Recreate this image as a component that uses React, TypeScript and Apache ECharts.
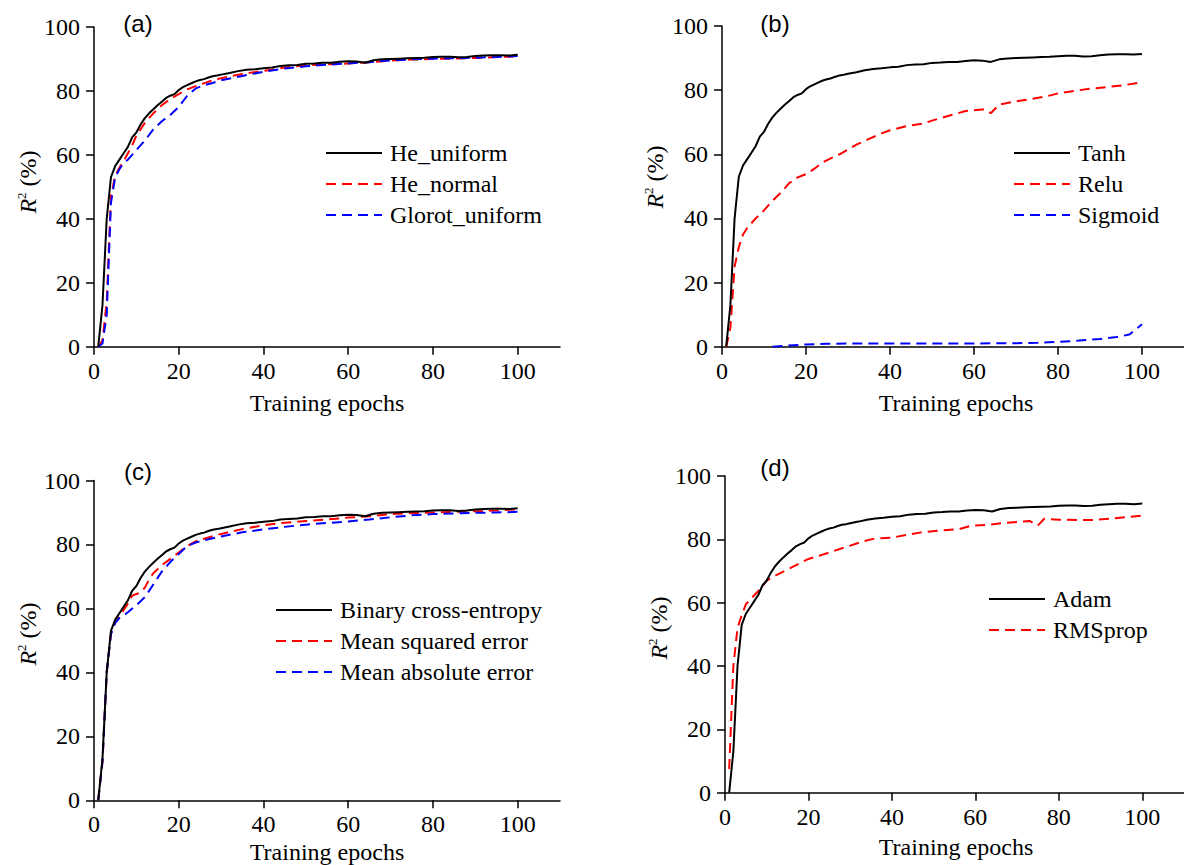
import React, { useEffect, useRef } from "react";
import * as echarts from "echarts";

// ---------- data (epoch, R2 %) ----------
const tickValuesX = [0, 20, 40, 60, 80, 100];

// reference model (He_uniform / Tanh / Binary cross-entropy / Adam)
const baselineR2: [number, number][] = [
  [1, 0], [2, 13], [3, 40], [4, 53], [5, 56.5], [6, 58.5], [7, 60.5], [8, 62.5], [9, 65.5], [10, 67],
  [11, 69.5], [12, 71.5], [13, 73], [14, 74.3], [15, 75.5], [16, 76.6], [17, 77.8], [18, 78.5], [19, 79],
  [20, 80.3], [21, 81.2], [22, 81.8], [23, 82.4], [24, 83], [25, 83.4], [26, 83.7], [27, 84.2], [28, 84.6],
  [29, 84.8], [30, 85.1], [32, 85.6], [34, 86.2], [36, 86.6], [38, 86.8], [40, 87.1], [42, 87.3], [44, 87.8],
  [46, 88], [48, 88.1], [50, 88.5], [52, 88.6], [54, 88.8], [56, 88.8], [58, 89.1], [60, 89.3], [62, 89.2],
  [64, 88.8], [66, 89.6], [68, 89.9], [70, 90], [72, 90.1], [74, 90.2], [76, 90.3], [78, 90.4], [80, 90.6],
  [82, 90.7], [84, 90.7], [86, 90.5], [88, 90.6], [90, 90.9], [92, 91.1], [94, 91.2], [96, 91.2], [98, 91.1],
  [100, 91.3],
];

const heNormal: [number, number][] = [
  [1, 0], [2, 2], [3, 14], [4, 47], [5, 53.5], [6, 56], [7, 58], [8, 60.5], [9, 63], [10, 66], [12, 70],
  [14, 73], [16, 75.5], [18, 77.5], [20, 79], [22, 80.5], [25, 82], [28, 83.3], [30, 84], [35, 85.3],
  [40, 86.3], [45, 87.3], [50, 88], [55, 88.3], [60, 88.6], [65, 89], [70, 89.5], [75, 89.8], [80, 90],
  [85, 90.1], [90, 90.3], [95, 90.6], [100, 90.8],
];

const glorotUniform: [number, number][] = [
  [1, 0], [2, 1], [3, 10], [4, 45], [5, 53], [6, 55.5], [7, 57.5], [8, 58.5], [9, 60], [10, 61.5],
  [12, 64.5], [14, 68], [16, 70.5], [18, 72.5], [20, 75], [22, 78.5], [24, 80.8], [26, 81.8], [28, 82.5],
  [30, 83.3], [35, 84.7], [40, 86], [45, 87], [50, 87.7], [55, 88.2], [60, 88.6], [65, 89], [70, 89.5],
  [75, 89.9], [80, 90.1], [85, 90.2], [90, 90.4], [95, 90.6], [100, 90.9],
];

const relu: [number, number][] = [
  [1, 0], [2, 6], [3, 25], [4, 31], [5, 35], [6, 37], [7, 38.5], [8, 40], [10, 42.5], [12, 45.5],
  [14, 48], [16, 51], [18, 52.8], [20, 53.8], [22, 55.5], [24, 57.5], [26, 58.8], [28, 60], [30, 61.5],
  [32, 63], [35, 64.8], [38, 66.5], [40, 67.5], [44, 68.8], [48, 69.6], [50, 70.5], [54, 72], [58, 73.5],
  [62, 74], [63, 73.8], [64, 72.8], [66, 75.5], [70, 76.5], [74, 77.3], [78, 78.3], [80, 79], [84, 79.8],
  [88, 80.5], [92, 81], [96, 81.6], [100, 82.5],
];

const sigmoid: [number, number][] = [
  [12, 0], [15, 0.3], [20, 0.7], [25, 0.9], [30, 1], [40, 1], [50, 1], [60, 1], [70, 1.1], [75, 1.2],
  [80, 1.5], [85, 1.9], [90, 2.4], [94, 3], [97, 3.8], [100, 7],
];

const meanSquaredError: [number, number][] = [
  [1, 0], [2, 12], [3, 40], [4, 52], [5, 55.5], [6, 57.5], [7, 59.5], [8, 61.5], [9, 64], [10, 64.5],
  [11, 65], [12, 66.5], [13, 69], [14, 71], [16, 73.5], [18, 75.5], [20, 77.5], [22, 79.5], [24, 81],
  [26, 81.8], [30, 83.3], [35, 84.8], [40, 86], [45, 86.8], [50, 87.3], [55, 87.8], [60, 88.4], [65, 88.8],
  [70, 89.5], [75, 89.8], [80, 90], [85, 90.2], [90, 90.4], [95, 90.6], [100, 91],
];

const meanAbsoluteError: [number, number][] = [
  [1, 0], [2, 12], [3, 40], [4, 52], [5, 55.5], [6, 57], [7, 57.8], [8, 58.8], [10, 61], [12, 63.5],
  [14, 67.5], [16, 71.5], [18, 74.5], [20, 77], [22, 79.5], [24, 80.6], [26, 81.3], [30, 82.5], [35, 83.8],
  [40, 84.7], [45, 85.5], [50, 86.2], [55, 86.7], [60, 87.2], [65, 87.8], [70, 88.5], [75, 89.1], [80, 89.5],
  [85, 89.7], [90, 89.9], [95, 90], [100, 90.2],
];

const rmsprop: [number, number][] = [
  [1, 7.5], [2, 40], [3, 52], [4, 56], [5, 59.5], [6, 61], [8, 63.7], [10, 67], [12, 68.5], [15, 70.5],
  [18, 72.5], [20, 73.8], [23, 75], [26, 76.3], [30, 78], [33, 79.3], [36, 80.3], [40, 80.5], [43, 81.3],
  [47, 82.2], [52, 82.8], [56, 83.2], [59, 84.3], [63, 84.6], [67, 85.2], [70, 85.5], [73, 85.8], [75, 84.4],
  [76.5, 86.5], [80, 86.2], [85, 86.1], [88, 86.1], [92, 86.5], [96, 87], [100, 87.5],
];

const panelLabels = ["(a)", "(b)", "(c)", "(d)"];
const seriesNames = [
  ["He_uniform", "He_normal", "Glorot_uniform"],
  ["Tanh", "Relu", "Sigmoid"],
  ["Binary cross-entropy", "Mean squared error", "Mean absolute error"],
  ["Adam", "RMSprop"],
];
const seriesData = [
  [baselineR2, heNormal, glorotUniform],
  [baselineR2, relu, sigmoid],
  [baselineR2, meanSquaredError, meanAbsoluteError],
  [baselineR2, rmsprop],
];

// ---------- layout ----------
const SERIF = "Liberation Serif";
const SANS = "Liberation Sans";
const COLORS = ["#000000", "#ff0000", "#0000ff"];

const layout = [
  { left: 94, top: 27, width: 466, height: 319.7, legendLeft: 325, legendTop: 141, label: [138, 23], yName: [28, 182], xName: [327, 403] },
  { left: 722, top: 26, width: 467.5, height: 320.7, legendLeft: 1013, legendTop: 141, label: [775, 23], yName: [655, 177], xName: [956, 403] },
  { left: 94, top: 480.5, width: 466, height: 319.8, legendLeft: 275, legendTop: 598, label: [138, 471], yName: [28, 634], xName: [327, 852] },
  { left: 725, top: 476, width: 462, height: 316.7, legendLeft: 988, legendTop: 587, label: [775, 467], yName: [659, 628], xName: [956, 847] },
];

export default function App() {
  const ref = useRef<HTMLDivElement>(null);

  useEffect(() => {
    if (!ref.current) return;
    const chart = echarts.init(ref.current, undefined, { renderer: "svg" });

    const axisLine = { show: true, onZero: false, lineStyle: { color: "#000", width: 1.5 } };
    const tick = { show: true, inside: false, length: 8, lineStyle: { color: "#000", width: 1.5 } };
    const labelStyle = {
      color: "#000",
      fontFamily: SERIF,
      fontSize: 24,
      formatter: "{t|{value}}",
      rich: { t: { fontFamily: SERIF, fontSize: 24, color: "#000" } },
    };

    const grids = layout.map((l) => ({ left: l.left, top: l.top, width: l.width, height: l.height, containLabel: false }));
    const xAxes = layout.map((_, i) => ({
      gridIndex: i,
      type: "value",
      min: 0,
      max: 110,
      interval: 20,
      axisLine,
      axisTick: { ...tick, customValues: tickValuesX },
      axisLabel: { ...labelStyle, margin: 12, customValues: tickValuesX },
      splitLine: { show: false },
    }));
    const yAxes = layout.map((_, i) => ({
      gridIndex: i,
      type: "value",
      min: 0,
      max: 100,
      interval: 20,
      axisLine,
      axisTick: tick,
      axisLabel: { ...labelStyle, margin: 14 },
      splitLine: { show: false },
    }));

    const series: any[] = [];
    seriesNames.forEach((names, p) => {
      names.forEach((name, k) => {
        series.push({
          type: "line",
          name,
          xAxisIndex: p,
          yAxisIndex: p,
          data: seriesData[p][k],
          symbol: "none",
          showSymbol: false,
          smooth: false,
          lineStyle: { color: COLORS[k], width: 2, type: k === 0 ? "solid" : [10, 6] },
          itemStyle: { color: COLORS[k] },
          z: k === 0 ? 3 : 2,
        });
      });
    });

    const legends = layout.map((l, p) => ({
      orient: "vertical",
      left: l.legendLeft,
      top: l.legendTop,
      padding: 0,
      itemWidth: 56,
      itemHeight: 14,
      itemGap: 7,
      data: seriesNames[p],
      itemStyle: { opacity: 0 },
      textStyle: { color: "#000", fontFamily: SERIF, fontSize: 24, lineHeight: 24, padding: [0, 0, 0, 3] },
    }));

    const graphics: any[] = [];
    layout.forEach((l, p) => {
      graphics.push({
        type: "text",
        x: l.label[0],
        y: l.label[1],
        style: { text: panelLabels[p], fontFamily: SANS, fontSize: 24, fill: "#000", align: "center", verticalAlign: "middle" },
      });
      graphics.push({
        type: "text",
        x: l.xName[0],
        y: l.xName[1],
        style: { text: "Training epochs", fontFamily: SERIF, fontSize: 24, fill: "#000", align: "center", verticalAlign: "middle" },
      });
      graphics.push({
        type: "text",
        x: l.yName[0],
        y: l.yName[1],
        rotation: Math.PI / 2,
        style: {
          text: "{i|R}{s|2}{n| (%)}",
          align: "center",
          verticalAlign: "middle",
          fill: "#000",
          rich: {
            i: { fontFamily: SERIF, fontSize: 24, fontStyle: "italic", fill: "#000", lineHeight: 26 },
            s: { fontFamily: SERIF, fontSize: 13, fill: "#000", verticalAlign: "top", lineHeight: 26 },
            n: { fontFamily: SERIF, fontSize: 24, fill: "#000", lineHeight: 26 },
          },
        },
      });
    });

    chart.setOption({
      animation: false,
      backgroundColor: "#ffffff",
      textStyle: { fontFamily: SERIF },
      grid: grids,
      xAxis: xAxes,
      yAxis: yAxes,
      legend: legends,
      series,
      graphic: graphics,
    });

    return () => chart.dispose();
  }, []);

  return <div ref={ref} style={{ position: "absolute", left: 0, top: 0, width: 1184, height: 865 }} />;
}
